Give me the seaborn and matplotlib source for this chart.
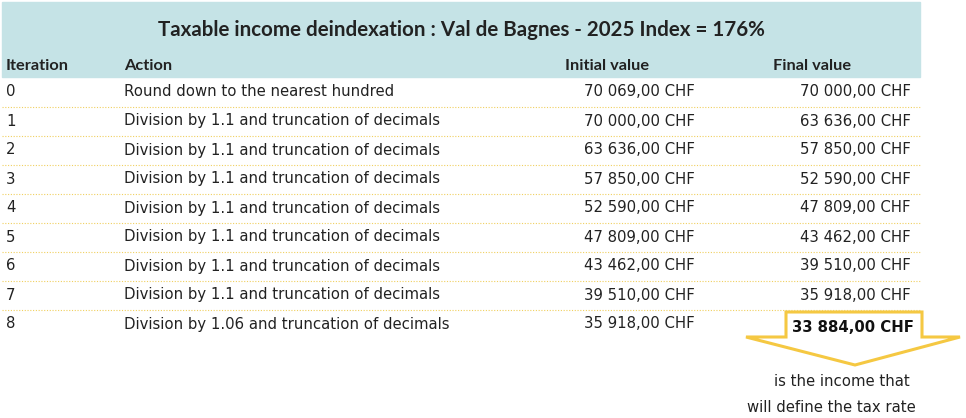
import matplotlib
matplotlib.use("Agg")
import matplotlib.pyplot as plt
import seaborn as sns
from matplotlib.patches import Rectangle, Polygon

sns.set_theme(style="white")
plt.rcParams['font.family'] = ['DejaVu Sans']

title = "Taxable income deindexation : Val de Bagnes - 2025 Index = 176%"
columns = ["Iteration", "Action", "Initial value", "Final value"]
iterations = ["0", "1", "2", "3", "4", "5", "6", "7", "8"]
actions = ["Round down to the nearest hundred"] + \
    ["Division by 1.1 and truncation of decimals"] * 7 + \
    ["Division by 1.06 and truncation of decimals"]
initial_values = ["70 069,00 CHF", "70 000,00 CHF", "63 636,00 CHF", "57 850,00 CHF",
                  "52 590,00 CHF", "47 809,00 CHF", "43 462,00 CHF", "39 510,00 CHF",
                  "35 918,00 CHF"]
final_values = ["70 000,00 CHF", "63 636,00 CHF", "57 850,00 CHF", "52 590,00 CHF",
                "47 809,00 CHF", "43 462,00 CHF", "39 510,00 CHF", "35 918,00 CHF",
                "33 884,00 CHF"]
note = ["is the income that", "will define the tax rate"]

fig = plt.figure(figsize=(9.66, 4.18), dpi=100)
ax = fig.add_axes([0, 0, 1, 1])
ax.set_xlim(0, 966)
ax.set_ylim(418, 0)
ax.axis("off")

txt = "#222222"
body = 10.7
hfont = ['Lato', 'DejaVu Sans']
# header band
ax.add_patch(Rectangle((2, 2), 918, 75, color="#c5e3e6", zorder=0))
ax.text(461, 30, title, ha="center", va="center", fontsize=14.8, fontweight="bold",
        color=txt, family=hfont)
hy = 66
ax.text(6, hy, columns[0], ha="left", va="center", fontsize=11.8, fontweight="bold", color=txt, family=hfont)
ax.text(124, hy, columns[1], ha="left", va="center", fontsize=11.8, fontweight="bold", color=txt, family=hfont)
ax.text(607, hy, columns[2], ha="center", va="center", fontsize=11.8, fontweight="bold", color=txt, family=hfont)
ax.text(812, hy, columns[3], ha="center", va="center", fontsize=11.8, fontweight="bold", color=txt, family=hfont)

row_h = 29
for i, (it, act, iv, fv) in enumerate(zip(iterations, actions, initial_values, final_values)):
    y = 92 + i * row_h
    ax.text(6, y, it, ha="left", va="center", fontsize=body, color=txt)
    ax.text(124, y, act, ha="left", va="center", fontsize=body, color=txt)
    ax.text(695, y, iv, ha="right", va="center", fontsize=body, color=txt)
    if i < len(iterations) - 1:
        ax.text(911, y, fv, ha="right", va="center", fontsize=body, color=txt)
        ax.plot([2, 920], [y + 14.5, y + 14.5], ls=(0, (1, 1.5)), lw=0.8, color="#f0d060")
    else:
        ax.text(853, y + 3, fv, ha="center", va="center", fontsize=body, fontweight="bold", color="#111111")

# arrow callout
arrow = [(786, 312), (922, 312), (922, 337), (960, 337), (855, 365),
         (746, 337), (786, 337)]
ax.add_patch(Polygon(arrow, closed=True, fill=False, edgecolor="#f5c842", lw=2.2, joinstyle="miter"))

ax.text(910, 381, note[0], ha="right", va="center", fontsize=body, color=txt)
ax.text(916, 407, note[1], ha="right", va="center", fontsize=body, color=txt)

fig.savefig("out.png", dpi=100, facecolor="white")
